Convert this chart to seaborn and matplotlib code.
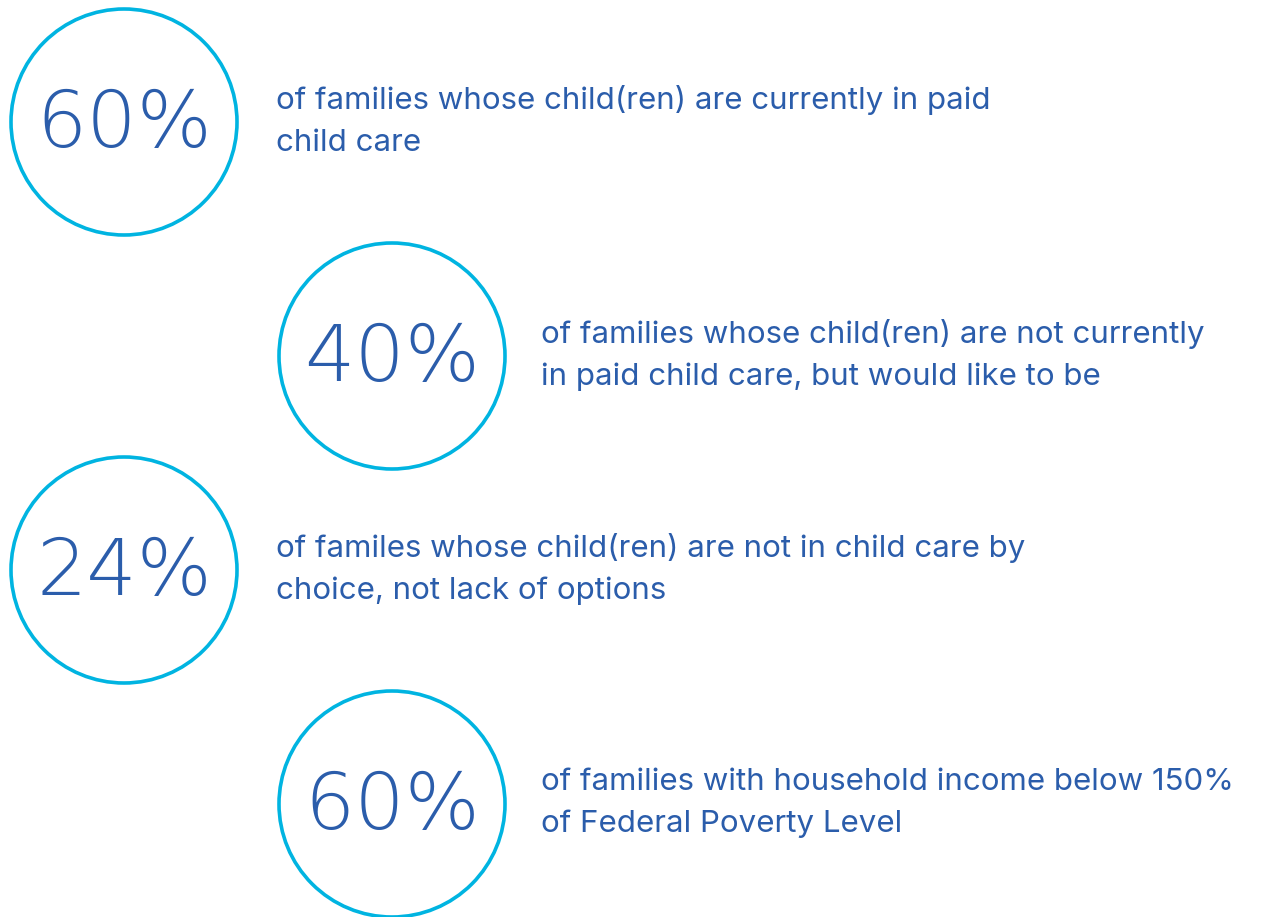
import matplotlib

matplotlib.use("Agg")
import matplotlib.pyplot as plt
from matplotlib.patches import Circle
import seaborn as sns

sns.set_theme(style="white")
plt.rcParams["font.family"] = ["DejaVu Sans"]

# stats shown in the rings, top to bottom
values = ["60%", "40%", "24%", "60%"]
labels = [
    "of families whose child(ren) are currently in paid\nchild care",
    "of families whose child(ren) are not currently\nin paid child care, but would like to be",
    "of familes whose child(ren) are not in child care by\nchoice, not lack of options",
    "of families with household income below 150%\nof Federal Poverty Level",
]

RING = "#00B4E1"
INK = "#2B5DAB"

W, H = 1286, 917
fig = plt.figure(figsize=(W / 100, H / 100), dpi=100)
ax = fig.add_axes([0, 0, 1, 1])
ax.set_xlim(0, W)
ax.set_ylim(H, 0)
ax.set_aspect("equal")
ax.axis("off")

centers_y = [122, 356, 570, 804]
for i, (val, lab) in enumerate(zip(values, labels)):
    cx = 124 if i % 2 == 0 else 392
    cy = centers_y[i]
    ax.add_patch(Circle((cx, cy), 113, fill=False, edgecolor=RING, lw=2.6))
    ax.text(cx, cy + 3, val, ha="center", va="center", fontsize=57,
            fontweight="light", color=INK)
    ax.text(cx + (152 if i % 2 == 0 else 149), cy - 1, lab, ha="left", va="center",
            fontsize=22.5, family=["Inter", "DejaVu Sans"], color=INK, linespacing=1.6)

plt.savefig("out.png", dpi=100)
plt.close()
